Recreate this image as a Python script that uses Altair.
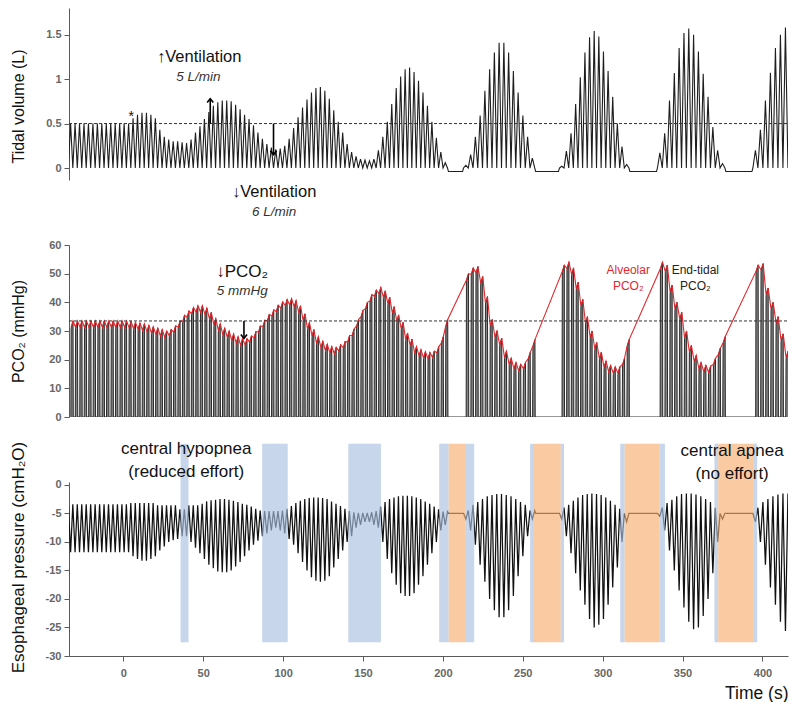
import altair as alt
import numpy as np
import pandas as pd

FONT = "Liberation Sans"

T_DOMAIN = [-34, 416]
TV_DOMAIN = [-0.135, 1.8]
PCO2_DOMAIN = [0, 60]
PES_DOMAIN = [-30, 0.5]

# time (s) of the first and last breath of each breathing run
run_first = [-33.0, 214.4, 274.4, 335.8, 395.6]
run_last = [201.5, 256.0, 315.0, 375.0, 414.4]

# tidal volume peak of each breath (L)
tv_peaks = [
    [0.5, 0.5, 0.5, 0.5, 0.5, 0.5, 0.5, 0.5, 0.5, 0.5,
     0.5, 0.5, 0.5, 0.5, 0.56, 0.6, 0.62, 0.62, 0.6, 0.56,
     0.43, 0.35, 0.32, 0.3, 0.3, 0.29, 0.28, 0.32, 0.4, 0.47,
     0.55, 0.63, 0.7, 0.74, 0.76, 0.76, 0.75, 0.71, 0.66, 0.6,
     0.55, 0.48, 0.4, 0.33, 0.27, 0.23, 0.21, 0.22, 0.25, 0.33,
     0.45, 0.57, 0.68, 0.77, 0.85, 0.9, 0.91, 0.87, 0.78, 0.65,
     0.52, 0.4, 0.27, 0.18, 0.13, 0.1, 0.09, 0.08, 0.1, 0.2,
     0.35, 0.52, 0.72, 0.9, 1.03, 1.11, 1.13, 1.08, 0.98, 0.85,
     0.7, 0.52, 0.34, 0.18, 0.06],
    [0.03, 0.15, 0.35, 0.59, 0.87, 1.11, 1.3, 1.41, 1.41, 1.3, 1.09, 0.85, 0.59, 0.35, 0.11],
    [0.02, 0.19, 0.39, 0.72, 1.02, 1.3, 1.47, 1.54, 1.48, 1.31, 1.09, 0.8, 0.5, 0.24, 0.04],
    [0.17, 0.39, 0.76, 1.07, 1.35, 1.52, 1.57, 1.5, 1.31, 1.06, 0.8, 0.46, 0.2, 0.05],
    [0.2, 0.43, 0.76, 1.07, 1.35, 1.5, 1.58],
]
tv_apnea_level = -0.04
tv_reference = 0.5

# end-tidal PCO2 of each breath (mmHg)
et_pco2 = [
    [33.5, 33.5, 33.5, 33.5, 33.5, 33.5, 33.5, 33.5, 33.5, 33.5,
     33.5, 33.5, 33.5, 33.3, 33, 32.8, 32.5, 32, 31.5, 31,
     30.5, 30, 30.5, 31.8, 33.5, 35.5, 37, 38.2, 38.8, 38.8,
     38, 36.5, 34.3, 32.5, 31, 30, 29, 28, 27.3, 27.3,
     28.3, 29.8, 31.8, 33.8, 35.8, 37.4, 39, 40.2, 41, 41.3,
     40.6, 38.8, 36, 33, 30.5, 28, 26.4, 25.4, 24.6, 24.3,
     25.2, 26.3, 28.4, 30.7, 34, 37.2, 40, 42.7, 44.3, 45.2,
     44, 41.8, 38.5, 35.6, 33, 29.3, 27.2, 24.6, 23.5, 22.8,
     22.5, 23, 24.6, 28, 34],
    [50, 52, 52.5, 49, 42, 34, 30, 27.5, 23, 20.5, 19, 18.4, 19, 22.5, 27],
    [53, 54, 52, 47, 41, 35, 30, 26, 22.6, 19.5, 18, 17.5, 17.5, 20.5, 27],
    [54, 53, 46, 40, 36.5, 30, 25, 21.5, 19, 18, 17.8, 20.5, 24, 28],
    [53, 53.5, 45, 40, 35, 29, 23],
]
pco2_reference = 33.5

# esophageal pressure: inspiratory minimum and expiratory maximum of each breath (cmH2O)
pes_min = [
    [-11.8, -11.8, -11.8, -11.8, -11.8, -11.8, -11.8, -11.8, -11.8, -11.8,
     -11.8, -11.8, -11.8, -11.8, -12.5, -13, -13.3, -13.3, -13, -12.5,
     -11.5, -10.8, -10, -9.7, -9.5, -9, -9, -10, -11, -12,
     -13, -14, -14.6, -15.2, -15.3, -15.3, -15, -14.3, -13.5, -12.5,
     -11.5, -10.5, -9.8, -9, -8.5, -8, -7.5, -8, -8.5, -9.5,
     -10.5, -12, -13.5, -15, -16.2, -16.8, -17, -16.8, -16, -14.5,
     -13, -11.5, -10, -9, -7.5, -7, -6.5, -6.5, -7, -7.5,
     -10, -13, -15.5, -17.5, -19, -19.5, -19.5, -19, -17.5, -16,
     -14, -12, -10, -8, -7],
    [-6, -8, -10.5, -14, -17, -20, -22, -23.2, -23.2, -22, -19.5, -16, -12.5, -9, -6],
    [-6, -9, -12, -15.5, -18.5, -21, -23.5, -25, -24.5, -23.5, -21, -18, -14.5, -10, -6.5],
    [-5.5, -8, -11.5, -15, -18.5, -21.5, -24, -25.3, -25, -23, -20, -15.5, -10, -6],
    [-6.5, -10, -14, -18, -21, -24, -25.6],
]
pes_max = [
    [-3.4, -3.4, -3.4, -3.4, -3.4, -3.4, -3.4, -3.4, -3.4, -3.4,
     -3.4, -3.4, -3.4, -3.4, -3.2, -3.2, -3.2, -3.2, -3.2, -3.2,
     -3.6, -3.6, -3.6, -3.6, -3.6, -4.3, -4.3, -3.6, -3.6, -3.6,
     -3.3, -2.9, -2.7, -2.6, -2.5, -2.5, -2.6, -2.8, -3, -3.3,
     -3.5, -3.8, -4.2, -4.5, -4.6, -4.6, -4.6, -4.6, -4.5, -4.2,
     -3.7, -3.2, -2.8, -2.5, -2.3, -2.2, -2.2, -2.3, -2.5, -2.9,
     -3.3, -3.7, -4.2, -4.6, -4.8, -4.9, -4.9, -4.9, -4.8, -4.6,
     -3.8, -3, -2.5, -2.2, -2, -1.9, -1.9, -2, -2.2, -2.5,
     -2.9, -3.3, -3.8, -4.3, -4.7],
    [-5, -4.5, -3.5, -3, -2.5, -2, -1.8, -1.6, -1.6, -1.8, -2, -2.5, -3, -3.5, -4.5],
    [-5, -4, -3.5, -2.8, -2.2, -1.8, -1.6, -1.5, -1.6, -1.8, -2.2, -2.8, -3.5, -4.2, -5],
    [-5, -4, -3.2, -2.6, -2, -1.6, -1.5, -1.5, -1.7, -2, -2.5, -3, -4, -5],
    [-5, -4, -3, -2.5, -2, -1.7, -1.5],
]
pes_apnea_level = -5

# shaded events (s)
band_start = [35.8, 86.9, 140.8, 197.7, 203.6, 214.4, 254.6, 257.0, 273.75, 311.0, 313.75, 335.6, 370.0, 372.3, 394.6]
band_end = [40.8, 102.9, 161.25, 203.6, 214.4, 219.6, 257.0, 273.75, 275.8, 313.75, 335.6, 339.0, 372.3, 394.6, 396.7]
band_kind = ["hypopnea", "hypopnea", "hypopnea",
             "hypopnea", "apnea", "hypopnea",
             "hypopnea", "apnea", "hypopnea",
             "hypopnea", "apnea", "hypopnea",
             "hypopnea", "apnea", "hypopnea"]
band_top = 7.2
band_bottom = -27.6


def run_times(i, n):
    tt = np.linspace(run_first[i], run_last[i], n)
    return tt, (tt[-1] - tt[0]) / (n - 1)


# ---- tidal volume trace
tv_pts = []
for i, peaks in enumerate(tv_peaks):
    tt, P = run_times(i, len(peaks))
    if i > 0:
        tv_pts.append((tt[0] - P / 2 - 0.6, tv_apnea_level))
    tv_pts.append((tt[0] - P / 2, 0.0))
    for t, v in zip(tt, peaks):
        tv_pts.append((t, v))
        tv_pts.append((t + P / 2, 0.0))
    if i < len(tv_peaks) - 1:
        tv_pts.append((tt[-1] + P / 2 + 0.6, tv_apnea_level))
tv_df = pd.DataFrame(tv_pts, columns=["t", "v"])

# ---- capnogram and alveolar PCO2
co2_pts, alv_pts = [], []
for i, ets in enumerate(et_pco2):
    tt, P = run_times(i, len(ets))
    for t, e in zip(tt, ets):
        co2_pts += [(t + 0.05 * P, 0.0), (t + 0.12 * P, e - 2.6), (t + 0.55 * P, e), (t + 0.6 * P, 0.0)]
        alv_pts += [(t + 0.12 * P, e - 2.2), (t + 0.55 * P, e)]
co2_df = pd.DataFrame(co2_pts, columns=["t", "v"])
alv_df = pd.DataFrame(alv_pts, columns=["t", "v"])

# ---- esophageal pressure
pes_pts = []
for i, (lo_list, hi_list) in enumerate(zip(pes_min, pes_max)):
    tt, P = run_times(i, len(lo_list))
    if i > 0:
        pes_pts.append((tt[0] - P / 2 - 0.6, pes_apnea_level))
    for t, lo, hi in zip(tt, lo_list, hi_list):
        pes_pts.append((t - P / 2, hi))
        pes_pts.append((t, lo))
    pes_pts.append((tt[-1] + P / 2, hi_list[-1]))
    if i < len(pes_min) - 1:
        pes_pts.append((tt[-1] + P / 2 + 0.6, pes_apnea_level))
pes_df = pd.DataFrame(pes_pts, columns=["t", "v"])

band_df = pd.DataFrame({"t": band_start, "t2": band_end, "kind": band_kind,
                        "v": band_top, "v2": band_bottom})

# ---- shared encodings
xs = alt.Scale(domain=T_DOMAIN, nice=False, zero=False)
x_none = alt.X("t:Q", scale=xs, axis=None)

axis_style = dict(
    domainColor="#5a5a5a", tickColor="#5a5a5a", tickSize=5, grid=False,
    labelColor="#666666", labelFont=FONT, labelFontSize=11, labelFontWeight="bold",
    labelPadding=3, labelExpr="toString(datum.value)",
    titleFont=FONT, titleFontWeight="normal", titleColor="#111111",
    titleAngle=270, titleBaseline="middle", titleAlign="center", titleX=-51,
)

W = 719


def text_layer(df, x, y, size, color="#111111", style="normal"):
    return alt.Chart(df).mark_text(
        font=FONT, fontSize=size, color=color, fontStyle=style,
        align="center", baseline="middle"
    ).encode(x=x, y=y, text="label:N")


def arrow_layer(t, v0, v1, x, y):
    shaft = pd.DataFrame({"t": [t, t], "v": [v0, v1]})
    head = pd.DataFrame({"t": [t], "v": [v1]})
    path = "M-0.8,1L0,0L0.8,1" if v1 > v0 else "M-0.8,-1L0,0L0.8,-1"
    return (alt.Chart(shaft).mark_line(color="black", strokeWidth=1.6).encode(x=x, y=y)
            + alt.Chart(head).mark_point(shape=path, filled=False, color="black",
                                         strokeWidth=1.6, size=60, opacity=1).encode(x=x, y=y))


# ---- top panel
y_tv = alt.Y("v:Q", scale=alt.Scale(domain=TV_DOMAIN, nice=False, zero=False),
             axis=alt.Axis(values=[0, 0.5, 1, 1.5], title="Tidal volume (L)",
                           titleFontSize=16, titleY=98, **axis_style))
tv_ref_df = pd.DataFrame({"t": T_DOMAIN, "v": [tv_reference, tv_reference]})
top = alt.layer(
    alt.Chart(tv_df).mark_line(color="#1e1e1e", strokeWidth=1.1, clip=True).encode(x=x_none, y=y_tv),
    alt.Chart(tv_ref_df).mark_line(color="#333333", strokeWidth=1, strokeDash=[3, 2]).encode(x=x_none, y=y_tv),
    arrow_layer(54.4, 0.5, 0.78, x_none, y_tv),
    arrow_layer(94.0, 0.5, 0.15, x_none, y_tv),
    text_layer(pd.DataFrame({"label": ["↑Ventilation", "↓Ventilation"], "t": [47.5, 94.4], "v": [1.25, -0.27]}),
               x_none, y_tv, 16.5),
    text_layer(pd.DataFrame({"label": ["5 L/min", "6 L/min"], "t": [47.0, 94.4], "v": [1.02, -0.49]}),
               x_none, y_tv, 13.5, "#333333", "italic"),
    text_layer(pd.DataFrame({"label": ["*"], "t": [5.0], "v": [0.57]}), x_none, y_tv, 14),
).properties(width=W, height=172)

# ---- middle panel
y_co2 = alt.Y("v:Q", scale=alt.Scale(domain=PCO2_DOMAIN, nice=False, zero=False),
              axis=alt.Axis(values=[0, 10, 20, 30, 40, 50, 60], title="PCO₂ (mmHg)",
                            titleFontSize=16, **axis_style))
co2_ref_df = pd.DataFrame({"t": T_DOMAIN, "v": [pco2_reference, pco2_reference]})
mid = alt.layer(
    alt.Chart(co2_df).mark_area(color="#858585", clip=True).encode(x=x_none, y=y_co2),
    alt.Chart(co2_df).mark_line(color="#1a1a1a", strokeWidth=0.9, clip=True).encode(x=x_none, y=y_co2),
    alt.Chart(alv_df).mark_line(color="#e3262b", strokeWidth=1.1, clip=True).encode(x=x_none, y=y_co2),
    alt.Chart(co2_ref_df).mark_line(color="#333333", strokeWidth=1, strokeDash=[3, 2]).encode(x=x_none, y=y_co2),
    arrow_layer(75.5, 33.5, 27.4, x_none, y_co2),
    text_layer(pd.DataFrame({"label": ["↓PCO₂"], "t": [74.4], "v": [50.5]}), x_none, y_co2, 17),
    text_layer(pd.DataFrame({"label": ["5 mmHg"], "t": [74.4], "v": [43.9]}), x_none, y_co2, 13.5, "#333333", "italic"),
    text_layer(pd.DataFrame({"label": ["Alveolar", "PCO₂"], "t": [316, 316], "v": [51.2, 45.6]}),
               x_none, y_co2, 12, "#e3262b"),
    text_layer(pd.DataFrame({"label": ["End-tidal", "PCO₂"], "t": [358, 358], "v": [51.2, 45.6]}),
               x_none, y_co2, 12, "#222222"),
).properties(width=W, height=172)

# ---- bottom panel
x_bot = alt.X("t:Q", scale=xs,
              axis=alt.Axis(values=list(range(0, 401, 50)), title="Time (s)",
                            domainColor="#5a5a5a", tickColor="#5a5a5a", tickSize=5, grid=False,
                            labelColor="#666666", labelFont=FONT, labelFontSize=11, labelFontWeight="bold",
                            labelPadding=6, labelExpr="toString(datum.value)",
                            titleFont=FONT, titleFontWeight="normal", titleColor="#111111",
                            titleFontSize=17.5, titleAnchor="end", titlePadding=6))
y_pes = alt.Y("v:Q", scale=alt.Scale(domain=PES_DOMAIN, nice=False, zero=False),
              axis=alt.Axis(values=[0, -5, -10, -15, -20, -25, -30], title="Esophageal pressure (cmH₂O)",
                            titleFontSize=17, titleY=75, **axis_style))
bot = alt.layer(
    alt.Chart(pes_df).mark_line(color="#111111", strokeWidth=1.25, clip=True).encode(x=x_bot, y=y_pes),
    alt.Chart(band_df).mark_rect(opacity=0.65).encode(
        x=x_bot, x2="t2:Q", y=y_pes, y2="v2:Q",
        color=alt.Color("kind:N", scale=alt.Scale(domain=["hypopnea", "apnea"], range=["#a9c0e0", "#f7ad70"]),
                        legend=None)),
    text_layer(pd.DataFrame({"label": ["central hypopnea", "(reduced effort)", "central apnea", "(no effort)"],
                             "t": [39.4, 39.4, 381, 381], "v": [6.3, 2.3, 6.0, 1.9]}),
               x_bot, y_pes, 17),
).properties(width=W, height=174)

chart = alt.vconcat(top, mid, bot, spacing=65, bounds="flush").properties(
    padding=0, background="white"
).configure_view(stroke=None)

chart.save("out.html", embed_options={"renderer": "svg", "actions": False})
